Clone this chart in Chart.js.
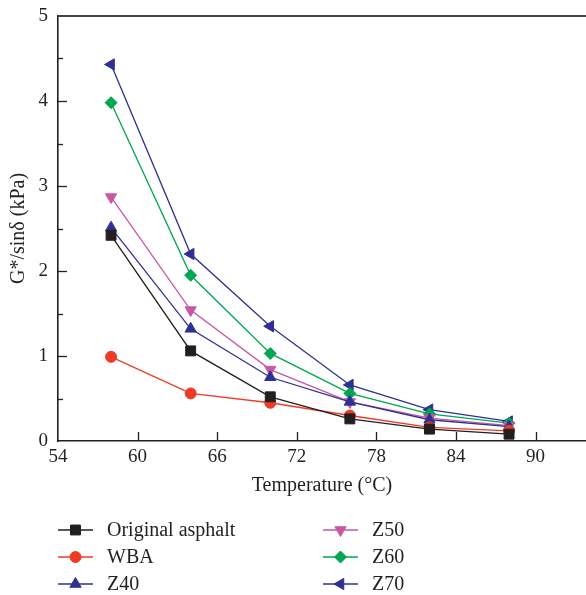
<!DOCTYPE html>
<html lang="en">
<head>
    <meta charset="UTF-8">
    <title>G*/sinδ vs Temperature</title>
    <style>
        html, body { margin: 0; padding: 0; background: #fff; }
        #wrap { width: 586px; height: 595px; }
    </style>
</head>
<body>
    <div id="wrap">
        <canvas id="gChart" width="586" height="595"></canvas>
    </div>

    <script src="https://cdn.jsdelivr.net/npm/chart.js"></script>

    <script>
        // Test temperatures (°C)
        const temps = [58, 64, 70, 76, 82, 88];

        // G*/sinδ values (kPa)
        const original = [2.42, 1.06, 0.52, 0.26, 0.14, 0.08];
        const wba      = [0.99, 0.56, 0.45, 0.30, 0.16, 0.12];
        const z40      = [2.51, 1.32, 0.75, 0.46, 0.25, 0.17];
        const z50      = [2.87, 1.54, 0.84, 0.46, 0.27, 0.18];
        const z60      = [3.98, 1.95, 1.03, 0.56, 0.32, 0.21];
        const z70      = [4.43, 2.20, 1.35, 0.66, 0.37, 0.23];

        const seriesNames = ['Original asphalt', 'WBA', 'Z40', 'Z50', 'Z60', 'Z70'];
        const xTicks = [54, 60, 66, 72, 78, 84, 90];
        const yTicks = [0, 1, 2, 3, 4, 5];

        const serif = "'Liberation Serif', 'DejaVu Serif', serif";
        const ink = '#231f20';

        function toPoints(vals) {
            return vals.map((v, i) => ({ x: temps[i], y: v }));
        }

        function makeSet(label, vals, color, style, rotation, radius) {
            return {
                label: label,
                data: toPoints(vals),
                borderColor: color,
                backgroundColor: color,
                borderWidth: 1.3,
                pointStyle: style,
                rotation: rotation,
                pointRadius: radius,
                pointHoverRadius: radius,
                pointBorderWidth: 1,
                tension: 0
            };
        }

        // inward tick marks, top frame line and the two-column legend
        const extras = {
            id: 'extras',
            afterDraw(chart) {
                const ctx = chart.ctx;
                const xs = chart.scales.x;
                const ys = chart.scales.y;
                const area = chart.chartArea;
                ctx.save();
                ctx.strokeStyle = ink;
                ctx.lineWidth = 1.3;

                // y ticks: major every 1, minor every 0.5
                for (let v = 0.5; v < 5; v += 0.5) {
                    const py = Math.round(ys.getPixelForValue(v)) + 0.5;
                    const len = (Math.abs(v - Math.round(v)) < 0.01) ? 9 : 5;
                    ctx.beginPath();
                    ctx.moveTo(area.left, py);
                    ctx.lineTo(area.left + len, py);
                    ctx.stroke();
                }
                // x ticks
                xTicks.slice(1).forEach(t => {
                    const px = Math.round(xs.getPixelForValue(t)) + 0.5;
                    ctx.beginPath();
                    ctx.moveTo(px, area.bottom);
                    ctx.lineTo(px, area.bottom - 9);
                    ctx.stroke();
                });

                // top frame
                ctx.strokeStyle = '#444';
                ctx.lineWidth = 1.8;
                ctx.beginPath();
                ctx.moveTo(area.left, area.top);
                ctx.lineTo(chart.width, area.top);
                ctx.stroke();

                // legend
                ctx.font = '20px ' + serif;
                ctx.textBaseline = 'middle';
                ctx.textAlign = 'left';
                chart.data.datasets.forEach((ds, i) => {
                    const col = i < 3 ? 0 : 1;
                    const row = i % 3;
                    const x0 = col === 0 ? 58 : 323;
                    const y0 = 530 + row * 27;
                    ctx.strokeStyle = ds.borderColor;
                    ctx.fillStyle = ds.backgroundColor;
                    ctx.lineWidth = 1.3;
                    ctx.beginPath();
                    ctx.moveTo(x0, y0);
                    ctx.lineTo(x0 + 35, y0);
                    ctx.stroke();
                    ctx.lineWidth = 1;
                    Chart.helpers.drawPoint(ctx, {
                        pointStyle: ds.pointStyle,
                        rotation: ds.rotation,
                        radius: ds.pointRadius,
                        borderWidth: 1
                    }, x0 + 17.5, y0);
                    ctx.fillStyle = ink;
                    ctx.fillText(ds.label, x0 + 49, y0 + 1);
                });
                ctx.restore();
            }
        };

        const ctx = document.getElementById('gChart').getContext('2d');
        const gChart = new Chart(ctx, {
            type: 'line',
            data: {
                datasets: [
                    makeSet(seriesNames[0], original, '#231f20', 'rect', 0, 7),
                    makeSet(seriesNames[1], wba, '#ef3b26', 'circle', 0, 5.5),
                    makeSet(seriesNames[2], z40, '#2e3192', 'triangle', 0, 6.5),
                    makeSet(seriesNames[3], z50, '#c957a3', 'triangle', 180, 6.5),
                    makeSet(seriesNames[4], z60, '#00a651', 'rectRot', 0, 6),
                    makeSet(seriesNames[5], z70, '#2e3192', 'triangle', -90, 6.5)
                ]
            },
            options: {
                responsive: false,
                animation: false,
                layout: {
                    autoPadding: false,
                    padding: { top: 16, right: 0, bottom: 97, left: 0 }
                },
                plugins: {
                    legend: { display: false },
                    tooltip: { enabled: false }
                },
                scales: {
                    x: {
                        type: 'linear',
                        min: 54,
                        max: 93.8,
                        afterFit(scale) {
                            scale.height = 57;
                            scale.paddingRight = 0;
                            scale.paddingLeft = 0;
                        },
                        afterBuildTicks(scale) {
                            scale.ticks = xTicks.map(v => ({ value: v }));
                        },
                        grid: { display: false, drawTicks: false, tickLength: 0 },
                        border: { display: true, color: ink, width: 1.6 },
                        ticks: {
                            color: ink,
                            padding: 5,
                            maxRotation: 0,
                            font: { family: serif, size: 19 }
                        },
                        title: {
                            display: true,
                            text: 'Temperature (°C)',
                            color: ink,
                            padding: { top: 0, bottom: 0 },
                            font: { family: serif, size: 20 }
                        }
                    },
                    y: {
                        min: 0,
                        max: 5,
                        afterFit(scale) {
                            scale.width = 58;
                            scale.paddingTop = 0;
                            scale.paddingBottom = 0;
                        },
                        afterBuildTicks(scale) {
                            scale.ticks = yTicks.map(v => ({ value: v }));
                        },
                        grid: { display: false, drawTicks: false, tickLength: 0 },
                        border: { display: true, color: ink, width: 1.6 },
                        ticks: {
                            color: ink,
                            padding: 10,
                            font: { family: serif, size: 19 }
                        },
                        title: {
                            display: true,
                            text: 'G*/sinδ (kPa)',
                            color: ink,
                            padding: { top: 7, bottom: 0 },
                            font: { family: serif, size: 20 }
                        }
                    }
                }
            },
            plugins: [extras]
        });
    </script>
</body>
</html>
